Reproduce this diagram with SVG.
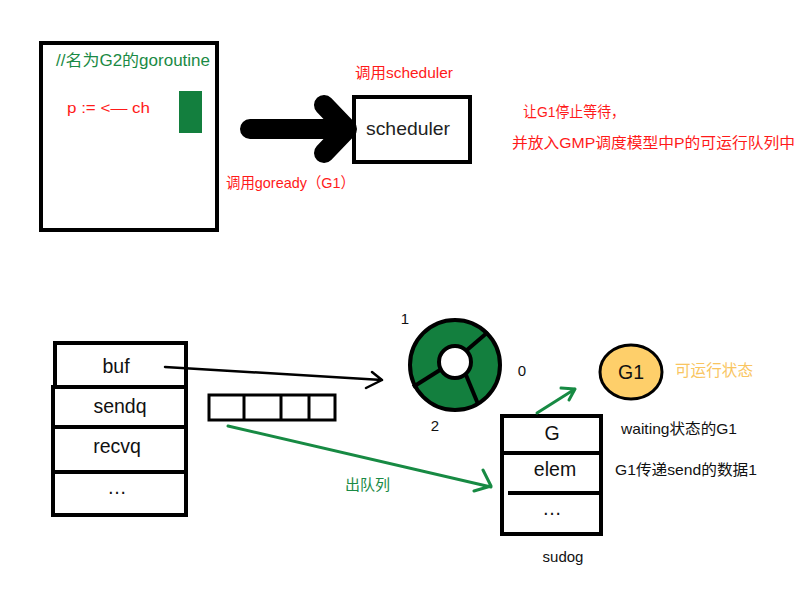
<svg xmlns="http://www.w3.org/2000/svg" width="800" height="600" viewBox="0 0 800 600">
<style>
  text { font-family: "Liberation Sans", "Noto Sans CJK SC", sans-serif; }
  .box { fill: #fff; stroke: #000; stroke-width: 4; }
  .red { fill: #ff1a1a; font-size: 15px; }
  .grn { fill: #1a8a45; font-size: 16px; }
  .lbl { fill: #111; font-size: 19.5px; text-anchor: middle; }
  .note { fill: #111; font-size: 15px; }
  .num { fill: #111; font-size: 15px; text-anchor: middle; }
</style>
<rect width="800" height="600" fill="#fff"/>

<g id="g2-goroutine">
  <rect class="box" x="41" y="43" width="176" height="187"/>
  <text class="grn" x="56" y="66" textLength="154" lengthAdjust="spacingAndGlyphs">//名为G2的goroutine</text>
  <text class="red" x="67" y="113" font-size="17" textLength="83" lengthAdjust="spacingAndGlyphs">p := &lt;— ch</text>
  <rect x="179" y="91" width="23" height="42" fill="#137f3e"/>
</g>

<g id="scheduler">
  <rect class="box" x="354" y="97" width="116" height="65"/>
  <text x="366" y="135" font-size="19" fill="#222" textLength="84" lengthAdjust="spacingAndGlyphs">scheduler</text>
  <text class="red" x="355" y="78" textLength="98" lengthAdjust="spacingAndGlyphs">调用scheduler</text>
</g>

<g id="notes-top">
  <text class="red" x="226" y="188" textLength="129" lengthAdjust="spacingAndGlyphs">调用goready（G1）</text>
  <text class="red" x="523" y="117" textLength="102" lengthAdjust="spacingAndGlyphs">让G1停止等待，</text>
  <text class="red" x="512" y="148" font-size="16.5" textLength="283" lengthAdjust="spacingAndGlyphs">并放入GMP调度模型中P的可运行队列中</text>
</g>

<g id="hchan">
  <rect class="box" x="55" y="343" width="131" height="44"/>
  <rect class="box" x="53" y="387" width="133" height="40"/>
  <rect class="box" x="53" y="427" width="133" height="45"/>
  <rect class="box" x="53" y="472" width="133" height="43"/>
  <text class="lbl" x="116" y="373">buf</text>
  <text class="lbl" x="120" y="413">sendq</text>
  <text class="lbl" x="117" y="453">recvq</text>
  <text class="lbl" x="117" y="494">…</text>
</g>

<g id="queue">
  <rect x="209" y="395" width="126" height="25" fill="#fff" stroke="#000" stroke-width="3"/>
  <line x1="244" y1="395" x2="244" y2="420" stroke="#000" stroke-width="3"/>
  <line x1="281" y1="395" x2="281" y2="420" stroke="#000" stroke-width="3"/>
  <line x1="309" y1="395" x2="309" y2="420" stroke="#000" stroke-width="3"/>
</g>

<g id="ring">
  <circle cx="455" cy="365" r="45" fill="#137f3e" stroke="#000" stroke-width="4"/>
  <line x1="467" y1="350" x2="488" y2="332" stroke="#000" stroke-width="4"/>
  <line x1="440" y1="370" x2="413" y2="387" stroke="#000" stroke-width="4"/>
  <line x1="466" y1="375" x2="478" y2="404" stroke="#000" stroke-width="4"/>
  <circle cx="455" cy="362" r="16" fill="#fff" stroke="#000" stroke-width="4"/>
  <text class="num" x="405" y="324">1</text>
  <text class="num" x="522" y="376">0</text>
  <text class="num" x="435" y="431">2</text>
</g>

<g id="g1">
  <ellipse cx="631" cy="372" rx="31" ry="27" fill="#fecf6a" stroke="#000" stroke-width="3"/>
  <text class="lbl" x="631" y="379">G1</text>
  <text x="675" y="376" font-size="15.5" fill="#f9c561" textLength="78" lengthAdjust="spacingAndGlyphs">可运行状态</text>
</g>

<g id="sudog">
  <rect class="box" x="502" y="416" width="99" height="118"/>
  <line x1="502" y1="453" x2="601" y2="453" stroke="#000" stroke-width="4"/>
  <line x1="508" y1="493" x2="601" y2="493" stroke="#000" stroke-width="4"/>
  <text class="lbl" x="552" y="440">G</text>
  <text class="lbl" x="555" y="476">elem</text>
  <text class="lbl" x="552" y="515">…</text>
  <text x="563" y="562" font-size="15" fill="#111" text-anchor="middle">sudog</text>
  <text class="note" x="621" y="434" textLength="116" lengthAdjust="spacingAndGlyphs">waiting状态的G1</text>
  <text class="note" x="615" y="475" textLength="142" lengthAdjust="spacingAndGlyphs">G1传递send的数据1</text>
</g>

<g id="connectors" fill="none" stroke-linecap="round" stroke-linejoin="round">
  <path d="M250 129 L343 129 M324 105 L347 129 L324 153" stroke="#000" stroke-width="20"/>
  <path d="M165 367 L382 380 M372 372 L382 380 L366 388" stroke="#000" stroke-width="2.5"/>
  <path d="M228 426 L491 487 M483 470 L491 486 L474 491" stroke="#178a43" stroke-width="3"/>
  <text x="345" y="490" font-size="15" fill="#1a8a45" stroke="none" textLength="45" lengthAdjust="spacingAndGlyphs">出队列</text>
  <path d="M537 413 L575 389 M561 388 L575 389 L569 400" stroke="#178a43" stroke-width="3"/>
</g>
</svg>
